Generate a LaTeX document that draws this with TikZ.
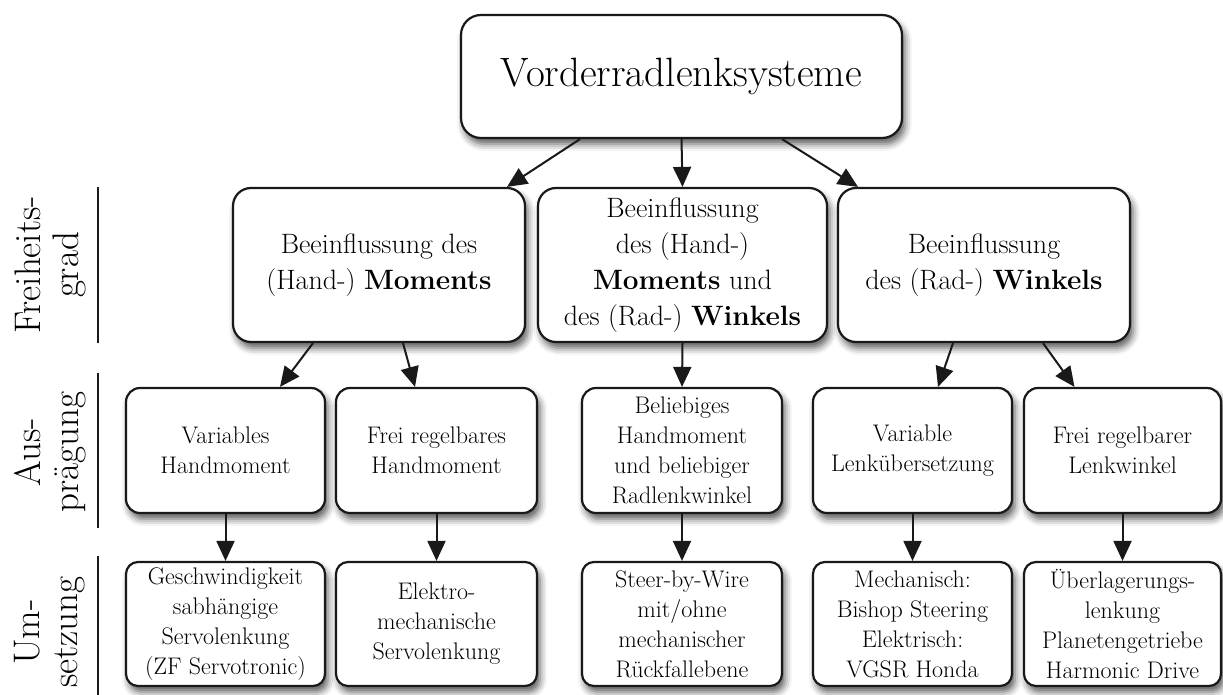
\documentclass[tikz,border=0pt]{standalone}
\usetikzlibrary{arrows.meta,shadows.blur}

\tikzset{
  box/.style={draw=black!90, line width=2.2pt, fill=white, align=center,
    inner sep=0pt, rounded corners=14pt,
    blur shadow={shadow xshift=3pt, shadow yshift=-6pt,
      shadow blur radius=7pt, shadow opacity=65}},
  topbox/.style={box, rounded corners=20pt, minimum width=441pt,
    minimum height=123pt, font=\fontsize{41}{48}\selectfont},
  dofbox/.style={box, rounded corners=18pt, minimum height=154pt,
    font=\fontsize{28}{36}\selectfont},
  formbox/.style={box, minimum height=125pt, font=\fontsize{24}{30}\selectfont},
  implbox/.style={box, rounded corners=12pt, minimum height=124pt,
    font=\fontsize{24}{30}\selectfont},
  arr/.style={line width=2pt, draw=black!90,
    -{Triangle[length=20pt,width=18pt]}},
  rowlabel/.style={rotate=90, align=center, inner sep=0pt,
    font=\fontsize{37}{38}\selectfont},
  rule/.style={line width=2pt, draw=black!90}
}

\begin{document}
\begin{tikzpicture}[x=1pt, y=-1pt]
  \useasboundingbox (0,0) rectangle (1223,695);

  % root
  \node[topbox] (top) at (681.5,76.5) {Vorderradlenksysteme};

  % degree of freedom
  \node[dofbox, minimum width=292pt] (dA) at (379,265)
    {Beeinflussung des\\(Hand-) \textbf{Moments}};
  \node[dofbox, minimum width=289pt] (dB) at (682.5,265)
    {Beeinflussung\\des (Hand-)\\\textbf{Moments} und\\des (Rad-) \textbf{Winkels}};
  \node[dofbox, minimum width=292pt] (dC) at (984,265)
    {Beeinflussung\\des (Rad-) \textbf{Winkels}};

  % characteristics
  \node[formbox, minimum width=199pt] (f1) at (225.5,450.5) {Variables\\Handmoment};
  \node[formbox, minimum width=201pt] (f2) at (436.5,450.5) {Frei regelbares\\Handmoment};
  \node[formbox, minimum width=200pt] (f3) at (682,450.5)
    {Beliebiges\\Handmoment\\und beliebiger\\Radlenkwinkel};
  \node[formbox, minimum width=199pt] (f4) at (912.5,450.5) {Variable\\Lenkübersetzung};
  \node[formbox, minimum width=197pt] (f5) at (1122.5,450.5) {Frei regelbarer\\Lenkwinkel};

  % implementation
  \node[implbox, minimum width=199pt] (i1) at (225.5,624)
    {Geschwindigkeit\\sabhängige\\Servolenkung\\(ZF Servotronic)};
  \node[implbox, minimum width=201pt] (i2) at (436.5,624)
    {Elektro-\\mechanische\\Servolenkung};
  \node[implbox, minimum width=200pt] (i3) at (682,624)
    {Steer-by-Wire\\mit/ohne\\mechanischer\\Rückfallebene};
  \node[implbox, minimum width=199pt] (i4) at (912.5,624)
    {Mechanisch:\\Bishop Steering\\Elektrisch:\\VGSR Honda};
  \node[implbox, minimum width=197pt] (i5) at (1122.5,624)
    {Überlagerungs-\\lenkung\\Planetengetriebe\\Harmonic Drive};

  % connectors
  \draw[arr] ([xshift=-101.5pt]top.south) -- ([xshift=128pt]dA.north);
  \draw[arr] (top.south) -- (dB.north);
  \draw[arr] ([xshift=100.5pt]top.south) -- ([xshift=-126pt]dC.north);

  \draw[arr] ([xshift=-66pt]dA.south) -- ([xshift=54.5pt]f1.north);
  \draw[arr] ([xshift=24pt]dA.south) -- ([xshift=-21.5pt]f2.north);
  \draw[arr] (dB.south) -- (f3.north);
  \draw[arr] ([xshift=-31pt]dC.south) -- ([xshift=25.5pt]f4.north);
  \draw[arr] ([xshift=59pt]dC.south) -- ([xshift=-48pt]f5.north);

  \draw[arr] (f1.south) -- (i1.north);
  \draw[arr] (f2.south) -- (i2.north);
  \draw[arr] (f3.south) -- (i3.north);
  \draw[arr] (f4.south) -- (i4.north);
  \draw[arr] (f5.south) -- (i5.north);

  % row labels with separators
  \node[rowlabel] (l1) at (50,265) {Freiheits-\\grad};
  \node[rowlabel] (l2) at (50,452) {Aus-\\prägung};
  \node[rowlabel] (l3) at (50,632) {Um-\\setzung};
  \coordinate (s1a) at (98,187);  \coordinate (s1b) at (98,343);
  \coordinate (s2a) at (98,373);  \coordinate (s2b) at (98,528);
  \coordinate (s3a) at (98,556);  \coordinate (s3b) at (98,695);
  \draw[rule] (s1a) -- (s1b);
  \draw[rule] (s2a) -- (s2b);
  \draw[rule] (s3a) -- (s3b);
\end{tikzpicture}
\end{document}
